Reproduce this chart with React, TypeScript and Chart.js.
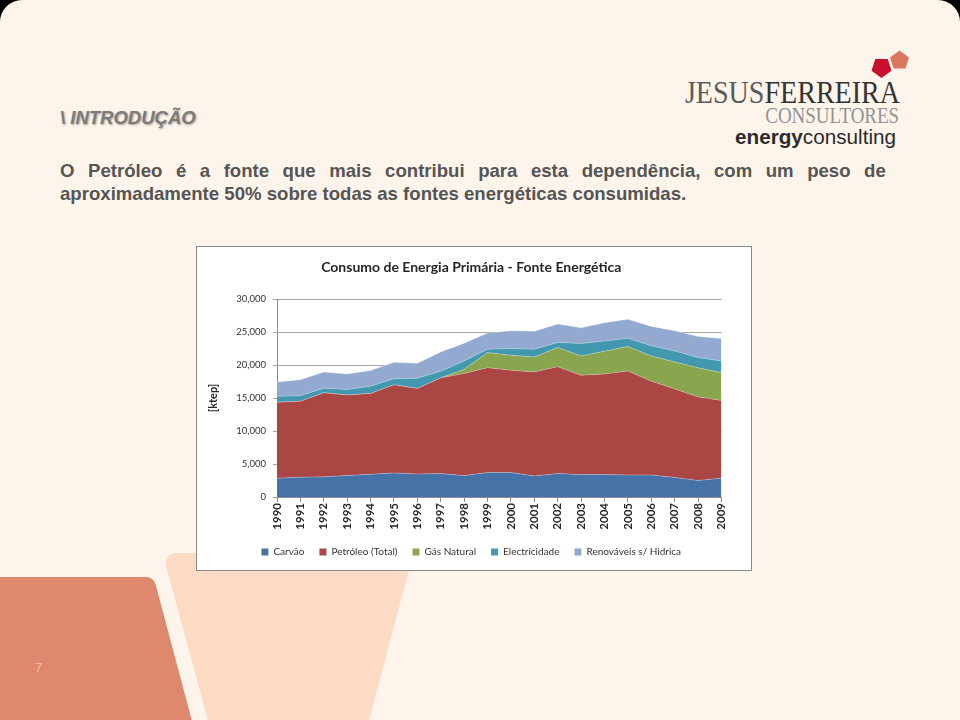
import React, { useEffect, useRef } from 'react';
import { Chart, registerables } from 'chart.js';

Chart.register(...registerables);

const years = ['1990', '1991', '1992', '1993', '1994', '1995', '1996', '1997', '1998', '1999', '2000', '2001', '2002', '2003', '2004', '2005', '2006', '2007', '2008', '2009'];
const carvao = [2850, 3000, 3050, 3250, 3450, 3650, 3500, 3550, 3250, 3700, 3700, 3200, 3550, 3400, 3400, 3350, 3350, 2950, 2500, 2850];
const petroleo = [11500, 11500, 12750, 12200, 12250, 13350, 12950, 14500, 15450, 15900, 15500, 15750, 16200, 15050, 15250, 15730, 14200, 13430, 12650, 11790];
const gasNatural = [0, 0, 0, 0, 0, 0, 0, 0, 640, 2290, 2280, 2270, 2900, 2930, 3440, 3730, 3830, 4080, 4440, 4190];
const electricidade = [900, 850, 680, 830, 1090, 910, 1550, 1020, 1270, 510, 1020, 1180, 770, 1890, 1530, 1230, 1530, 1680, 1530, 1780];
const renovaveis = [2190, 2400, 2450, 2370, 2360, 2490, 2250, 2910, 2690, 2430, 2680, 2700, 2780, 2360, 2780, 2880, 2940, 3040, 3200, 3410];

const seriesNames = ['Carvão', 'Petróleo (Total)', 'Gás Natural', 'Electricidade', 'Renováveis s/ Hidrica'];
const seriesColors = ['#4572A7', '#AA4643', '#89A54E', '#4198AF', '#93A9CF'];
const yTicks = [0, 5000, 10000, 15000, 20000, 25000, 30000];

const chartTitle = 'Consumo de Energia Primária - Fonte Energética';
const yTitle = '[ktep]';

function pentagon(cx: number, cy: number, r: number, up: boolean) {
  const pts: string[] = [];
  for (let k = 0; k < 5; k++) {
    const a = (up ? -90 : 90) * Math.PI / 180 + k * 2 * Math.PI / 5;
    pts.push(`${(cx + r * Math.cos(a)).toFixed(1)},${(cy + r * Math.sin(a)).toFixed(1)}`);
  }
  return pts.join(' ');
}

export default function App() {
  const ref = useRef<HTMLCanvasElement>(null);

  useEffect(() => {
    const values = [carvao, petroleo, gasNatural, electricidade, renovaveis];
    const chart = new Chart(ref.current as HTMLCanvasElement, {
      type: 'line',
      data: {
        labels: years,
        datasets: values.map((v, i) => ({
          label: seriesNames[i],
          data: v,
          backgroundColor: seriesColors[i],
          borderColor: 'rgba(255,255,255,0.28)',
          borderWidth: 1,
          fill: i === 0 ? 'origin' : '-1',
          pointRadius: 0,
          tension: 0,
        })),
      },
      options: {
        responsive: false,
        animation: false,
        layout: { padding: { left: 24, right: 29.5, top: 0, bottom: 3 } },
        plugins: {
          title: {
            display: true,
            text: chartTitle,
            color: '#262626',
            font: { family: 'Lato', size: 14, weight: 'bold' },
            padding: { top: 11.6, bottom: 23.6 },
          },
          legend: {
            position: 'bottom',
            labels: {
              boxWidth: 7,
              boxHeight: 7,
              padding: 15,
              color: '#333',
              font: { family: 'Lato', size: 10 },
              generateLabels: (c: any) =>
                Chart.defaults.plugins.legend.labels.generateLabels(c).map((l: any) => ({ ...l, strokeStyle: l.fillStyle, lineWidth: 0 })),
            },
          },
          tooltip: { enabled: false },
        },
        scales: {
          x: {
            grid: { display: true, drawOnChartArea: false, drawTicks: true, tickLength: 5, color: '#8c8c8c' },
            border: { color: '#8c8c8c' },
            ticks: {
              minRotation: 90,
              maxRotation: 90,
              autoSkip: false,
              padding: 1,
              color: '#262626',
              font: { family: 'Lato', size: 11.5, weight: 'bold' },
            },
            afterFit: (s: any) => { s.height = 35; },
          },
          y: {
            stacked: true,
            min: 0,
            max: 30000,
            afterBuildTicks: (s: any) => { s.ticks = yTicks.map((v) => ({ value: v })); },
            ticks: {
              padding: 7,
              color: '#333',
              font: { family: 'Lato', size: 9.5 },
              callback: (v: any) => Number(v).toLocaleString('en-US'),
            },
            grid: { color: '#a6a6a6', tickLength: 4 },
            border: { color: '#8c8c8c' },
            title: {
              display: true,
              text: yTitle,
              color: '#262626',
              font: { family: 'Lato', size: 11, weight: 'bold' },
              padding: { top: -14.6, bottom: 0 },
            },
            afterFit: (s: any) => { s.width = 56; },
          },
        },
      },
    } as any);
    return () => chart.destroy();
  }, []);

  const sans = '"Liberation Sans", Arial, sans-serif';
  const serif = '"Liberation Serif", "Times New Roman", serif';

  return (
    <div style={{ position: 'absolute', left: 0, top: 0, width: 960, height: 720, background: '#000', overflow: 'hidden' }}>
      <div style={{ position: 'absolute', left: 0, top: 0, width: 960, height: 720, background: '#FDF4EB', borderRadius: '22px 22px 0 0', overflow: 'hidden' }}>
        <svg width={960} height={720} style={{ position: 'absolute', left: 0, top: 0 }}>
          <polygon points="175.6,563 400.5,563 352,745 225,745" fill="#FCDAC4" stroke="#FCDAC4" strokeWidth={20} strokeLinejoin="round" />
          <polygon points="-30,587 146,587 188,745 -30,745" fill="#DE886E" stroke="#DE886E" strokeWidth={20} strokeLinejoin="round" />
          <polygon points={pentagon(881.5, 67.5, 10.5, false)} fill="#C8102E" />
          <polygon points={pentagon(899.5, 60.5, 10, true)} fill="#D9785D" />
        </svg>

        <div style={{ position: 'absolute', left: 35, top: 660, font: `13px ${sans}`, color: '#F6C1A5' }}>7</div>

        <div style={{ position: 'absolute', left: 60, top: 107.6, font: `italic bold 18.5px ${sans}`, lineHeight: '20px', color: '#7B7B7B', textShadow: '1px 1px 2px rgba(0,0,0,0.35)', whiteSpace: 'nowrap' }}>
          {'\\ INTRODUÇÃO'}
        </div>

        <div style={{ position: 'absolute', right: 60, top: 77, font: `31.7px ${serif}`, lineHeight: '31.7px', whiteSpace: 'nowrap', transform: 'scaleX(0.885)', transformOrigin: 'right center' }}>
          <span style={{ color: '#5a5a5a' }}>JESUS</span><span style={{ color: '#333' }}>FERREIRA</span>
        </div>
        <div style={{ position: 'absolute', right: 61, top: 104.8, font: `22.7px ${serif}`, lineHeight: '22.7px', color: '#939393', whiteSpace: 'nowrap', transform: 'scaleX(0.836)', transformOrigin: 'right center' }}>
          CONSULTORES
        </div>
        <div style={{ position: 'absolute', right: 64, top: 126.5, font: `20.7px ${sans}`, lineHeight: '20.7px', color: '#2b2b2b', whiteSpace: 'nowrap' }}>
          <span style={{ fontWeight: 'bold' }}>energy</span>consulting
        </div>

        <div style={{ position: 'absolute', left: 60, top: 158.8, width: 826, font: `bold 18.6px ${sans}`, lineHeight: '23.5px', color: '#555', whiteSpace: 'nowrap' }}>
          <div style={{ display: 'flex', justifyContent: 'space-between' }}>
            {'O Petróleo é a fonte que mais contribui para esta dependência, com um peso de'.split(' ').map((w, i) => <span key={i}>{w}</span>)}
          </div>
        </div>
        <div style={{ position: 'absolute', left: 60, top: 182.3, font: `bold 18.6px ${sans}`, lineHeight: '23.5px', color: '#555', whiteSpace: 'nowrap' }}>
          aproximadamente 50% sobre todas as fontes energéticas consumidas.
        </div>

        <div style={{ position: 'absolute', left: 196, top: 246, width: 554, height: 323, border: '1px solid #8a8a8a', background: '#fff' }}>
          <canvas ref={ref} width={554} height={323} style={{ display: 'block', width: 554, height: 323 }} />
        </div>
      </div>
    </div>
  );
}
